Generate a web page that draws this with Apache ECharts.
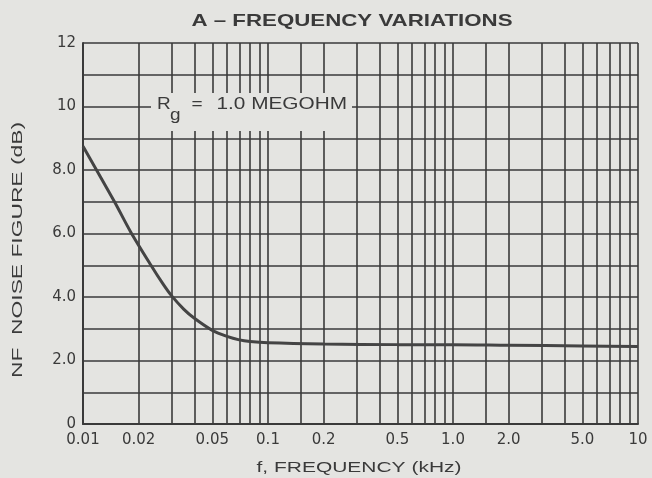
<!DOCTYPE html>
<html><head><meta charset="utf-8">
<script src="https://cdn.jsdelivr.net/npm/echarts@6/dist/echarts.min.js"></script>
<style>html,body{margin:0;padding:0;background:#e4e4e1}#c{width:652px;height:478px}</style>
</head><body><div id="c"></div>
<script>
// Data
const freqKHz       = [0.01, 0.0148, 0.0181, 0.0233, 0.027, 0.03, 0.035, 0.04, 0.05, 0.06, 0.07, 0.08, 0.1, 0.2, 0.5, 1, 2, 5, 10];
const noiseFigureDb = [8.75, 7.0, 6.05, 5.0, 4.42, 4.05, 3.62, 3.33, 2.95, 2.76, 2.65, 2.6, 2.56, 2.52, 2.5, 2.5, 2.48, 2.46, 2.44];
const xGridValues   = [0.01,0.015,0.02,0.03,0.04,0.05,0.06,0.07,0.08,0.09,
                       0.1,0.15,0.2,0.3,0.4,0.5,0.6,0.7,0.8,0.9,
                       1,1.5,2,3,4,5,6,7,8,9,10];
const xTickValues   = [0.01, 0.02, 0.05, 0.1, 0.2, 0.5, 1, 2, 5, 10];
const xTickLabels   = ['0.01','0.02','0.05','0.1','0.2','0.5','1.0','2.0','5.0','10'];
const yTickValues   = [0, 2, 4, 6, 8, 10, 12];
const yTickLabels   = ['0','2.0','4.0','6.0','8.0','10','12'];
const titleText     = 'A \u2013 FREQUENCY VARIATIONS';
const xName         = 'f, FREQUENCY (kHz)';
const yName         = 'NF  NOISE FIGURE (dB)';
const noteParts     = ['R', 'g', '=', '1.0 MEGOHM'];

const ink = '#3a3a3a';
const bg = '#e4e4e1';
const font = 'Liberation Sans';
const tickFont = 'DejaVu Sans';

const mctx = document.createElement('canvas').getContext('2d');
function fit(text, cssFont, target) {
  mctx.font = cssFont;
  return target / mctx.measureText(text).width;
}

const chart = echarts.init(document.getElementById('c'), null, {renderer:'canvas'});

const gridData = xGridValues.map(v => {
  const i = xTickValues.indexOf(v);
  return {
    xAxis: v,
    label: i >= 0 ? {show:true, position:'start', formatter: xTickLabels[i], distance: 9,
                     color: ink, fontSize: 15, fontFamily: tickFont} : {show:false}
  };
});

const titleFont = 'bold 16.5px "' + font + '"';
const nameFont = '15px "' + font + '"';
const noteFont = '16.5px "' + font + '"';

chart.setOption({
  backgroundColor: bg,
  animation: false,
  grid: {left: 83, right: 14, top: 43, bottom: 54},
  xAxis: {
    type: 'log', min: 0.01, max: 10, logBase: 10,
    axisLine: {show: true, lineStyle: {color: ink, width: 2}},
    axisTick: {show: false}, axisLabel: {show: false}, splitLine: {show: false}
  },
  yAxis: {
    type: 'value', min: 0, max: 12, interval: 1,
    axisLine: {show: true, lineStyle: {color: ink, width: 2}},
    axisTick: {show: false},
    axisLabel: {
      fontFamily: tickFont, fontSize: 15, color: ink, margin: 7,
      formatter: v => { const i = yTickValues.indexOf(v); return i >= 0 ? yTickLabels[i] : ''; }
    },
    splitLine: {show: true, lineStyle: {color: ink, width: 1.6}}
  },
  series: [
    {
      type: 'line', data: [], silent: true, z: 1,
      markLine: {
        silent: true, symbol: 'none', animation: false,
        lineStyle: {color: ink, width: 1.6, type: 'solid'},
        data: gridData
      }
    },
    {
      type: 'line', z: 5, smooth: 0.3, symbol: 'none',
      lineStyle: {color: '#444', width: 3},
      data: freqKHz.map((f, i) => [f, noiseFigureDb[i]])
    }
  ],
  graphic: [
    { type: 'text', z: 100, x: 352, y: 21, scaleX: fit(titleText, titleFont, 321),
      style: {text: titleText, font: titleFont, fill: ink, textAlign: 'center', textVerticalAlign: 'middle'} },
    { type: 'text', z: 100, x: 359, y: 468, scaleX: fit(xName, nameFont, 205),
      style: {text: xName, font: nameFont, fill: ink, textAlign: 'center', textVerticalAlign: 'middle'} },
    { type: 'text', z: 100, x: 18, y: 250, rotation: Math.PI / 2, scaleX: fit(yName, nameFont, 256),
      style: {text: yName, font: nameFont, fill: ink, textAlign: 'center', textVerticalAlign: 'middle'} },
    { type: 'rect', z: 99, shape: {x: 151, y: 93, width: 201, height: 38}, style: {fill: bg} },
    { type: 'text', z: 100, x: 157, y: 104.5, scaleX: 1.15,
      style: {text: noteParts[0], font: noteFont, fill: ink, textAlign: 'left', textVerticalAlign: 'middle'} },
    { type: 'text', z: 100, x: 170, y: 115.5, scaleX: 1.15,
      style: {text: noteParts[1], font: noteFont, fill: ink, textAlign: 'left', textVerticalAlign: 'middle'} },
    { type: 'text', z: 100, x: 191.5, y: 104.5, scaleX: 1.15,
      style: {text: noteParts[2], font: noteFont, fill: ink, textAlign: 'left', textVerticalAlign: 'middle'} },
    { type: 'text', z: 100, x: 216.5, y: 104.5, scaleX: fit(noteParts[3], noteFont, 130.5),
      style: {text: noteParts[3], font: noteFont, fill: ink, textAlign: 'left', textVerticalAlign: 'middle'} }
  ]
});
</script></body></html>
